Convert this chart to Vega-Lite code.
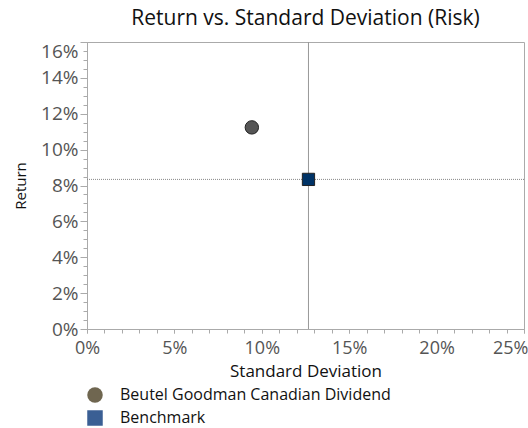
{
  "$schema": "https://vega.github.io/schema/vega-lite/v6.json",
  "width": 437,
  "height": 287,
  "autosize": "none",
  "padding": {"left": 87, "top": 42, "right": 4, "bottom": 99},
  "title": {"text": "Return vs. Standard Deviation (Risk)", "fontSize": 21, "font": "Open Sans", "fontWeight": "normal", "color": "#111", "anchor": "middle", "offset": 13},
  "datasets": {
    "points": [
      {"series": "Beutel Goodman Canadian Dividend", "sd": 0.0943, "ret": 0.1124},
      {"series": "Benchmark", "sd": 0.1267, "ret": 0.0834}
    ]
  },
  "data": {"name": "points"},
  "resolve": {"axis": {"x": "independent", "y": "independent"}},
  "layer": [
    {
      "mark": {"type": "point", "opacity": 0},
      "encoding": {
        "x": {"field": "sd", "type": "quantitative", "scale": {"domain": [0, 0.25], "nice": false, "zero": true},
          "axis": {"orient": "bottom", "values": [0,0.01,0.02,0.03,0.04,0.05,0.06,0.07,0.08,0.09,0.1,0.11,0.12,0.13,0.14,0.15,0.16,0.17,0.18,0.19,0.2,0.21,0.22,0.23,0.24,0.25], "labels": false, "domain": false, "grid": false, "title": null, "tickSize": 4, "tickColor": "#aaa"}},
        "y": {"field": "ret", "type": "quantitative", "scale": {"domain": [0, 0.16], "nice": false},
          "axis": {"orient": "left", "values": [0,0.005,0.01,0.015,0.02,0.025,0.03,0.035,0.04,0.045,0.05,0.055,0.06,0.065,0.07,0.075,0.08,0.085,0.09,0.095,0.1,0.105,0.11,0.115,0.12,0.125,0.13,0.135,0.14,0.145,0.15,0.155,0.16], "labels": false, "domain": false, "grid": false, "title": null, "tickSize": 4, "tickColor": "#aaa"}}
      }
    },
    {
      "transform": [{"filter": "datum.series === 'Benchmark'"}],
      "mark": {"type": "rule", "color": "#999", "strokeWidth": 1},
      "encoding": {"x": {"field": "sd", "type": "quantitative", "axis": null}}
    },
    {
      "transform": [{"filter": "datum.series === 'Benchmark'"}],
      "mark": {"type": "rule", "color": "#888", "strokeWidth": 1, "strokeDash": [1, 1]},
      "encoding": {"y": {"field": "ret", "type": "quantitative", "axis": null}}
    },
    {
      "mark": {"type": "point", "filled": true, "size": 60, "opacity": 1},
      "encoding": {
        "x": {"field": "sd", "type": "quantitative",
          "axis": {"orient": "bottom", "values": [0, 0.05, 0.1, 0.15, 0.2, 0.25], "format": ".0%", "grid": false, "title": "Standard Deviation", "titleFont": "Open Sans", "titleFontSize": 17, "titleFontWeight": "normal", "titleColor": "#111", "titlePadding": 6, "labelFont": "Open Sans", "labelFontSize": 18, "labelColor": "#555", "labelFlush": false, "labelPadding": 6,
            "labelAlign": {"condition": {"test": "datum.value >= 0.249", "value": "right"}, "value": "center"},
            "labelOffset": {"condition": {"test": "datum.value >= 0.249", "value": 4}, "value": 0},
            "tickSize": 4, "tickColor": "#aaa", "domainColor": "#aaa"}},
        "y": {"field": "ret", "type": "quantitative",
          "axis": {"orient": "left", "values": [0, 0.02, 0.04, 0.06, 0.08, 0.1, 0.12, 0.14, 0.16], "format": ".0%", "grid": false, "title": "Return", "titleFont": "Open Sans", "titleFontSize": 15, "titleFontWeight": "normal", "titleColor": "#111", "titlePadding": 12, "labelFont": "Open Sans", "labelFontSize": 19, "labelColor": "#555", "labelBaseline": {"condition": {"test": "datum.value >= 0.159", "value": "top"}, "value": "middle"}, "labelPadding": 2, "tickSize": 7, "tickColor": "#aaa", "domainColor": "#aaa"}},
        "fill": {"field": "series", "type": "nominal", "scale": {"domain": ["Beutel Goodman Canadian Dividend", "Benchmark"], "range": ["#6f6650", "#3a5f94"]},
          "legend": {"orient": "none", "legendX": 0, "legendY": 345, "title": null, "symbolSize": 240, "symbolStrokeWidth": 0, "labelFont": "Open Sans", "labelFontSize": 16, "labelColor": "#111", "labelOffset": 17, "labelLimit": 0, "rowPadding": 7}},
        "shape": {"field": "series", "type": "nominal", "scale": {"domain": ["Beutel Goodman Canadian Dividend", "Benchmark"], "range": ["circle", "square"]}}
      }
    },
    {
      "transform": [{"filter": "datum.series !== 'Benchmark'"}],
      "mark": {"type": "point", "shape": "circle", "filled": true, "size": 180, "fill": "#555", "stroke": "#222", "strokeWidth": 1, "opacity": 1},
      "encoding": {
        "x": {"field": "sd", "type": "quantitative", "axis": null},
        "y": {"field": "ret", "type": "quantitative", "axis": null}
      }
    },
    {
      "transform": [{"filter": "datum.series === 'Benchmark'"}],
      "mark": {"type": "point", "shape": "square", "filled": true, "size": 150, "fill": "#003366", "stroke": "#222", "strokeWidth": 1, "opacity": 1},
      "encoding": {
        "x": {"field": "sd", "type": "quantitative", "axis": null},
        "y": {"field": "ret", "type": "quantitative", "axis": null}
      }
    }
  ],
  "config": {"view": {"stroke": "#aaa"}, "font": "Open Sans"}
}
